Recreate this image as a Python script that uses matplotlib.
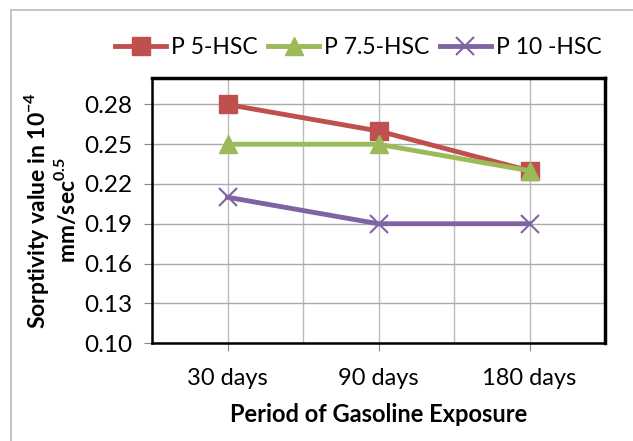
import matplotlib
matplotlib.use("Agg")
import matplotlib.pyplot as plt
from matplotlib.patches import Rectangle
import numpy as np

categories = ["30 days", "90 days", "180 days"]
p5 = [0.28, 0.26, 0.23]
p75 = [0.25, 0.25, 0.23]
p10 = [0.21, 0.19, 0.19]
series_names = ["P 5-HSC", "P 7.5-HSC", "P 10 -HSC"]
yticks = [0.10, 0.13, 0.16, 0.19, 0.22, 0.25, 0.28]

plt.rcParams['font.family'] = ['Lato', 'DejaVu Sans']
plt.rcParams['mathtext.fontset'] = 'custom'
plt.rcParams['mathtext.rm'] = 'Lato'
plt.rcParams['mathtext.bf'] = 'Lato:bold'

W, H = 633, 441
fig = plt.figure(figsize=(W/100, H/100), dpi=100)
ax = fig.add_axes([152/W, 1-343/H, (605-152)/W, (343-78)/H])

x = np.arange(len(categories))
ax.plot(x, p5, color='#C0504D', lw=3.5, marker='s', ms=13, label=series_names[0], zorder=3)
ax.plot(x, p75, color='#9BBB59', lw=3.5, marker='^', ms=13, label=series_names[1], zorder=3)
ax.plot(x, p10, color='#8064A2', lw=3.5, marker='x', ms=13, mew=1.5, label=series_names[2], zorder=3)

ax.set_xlim(-0.5, 2.5)
ax.set_ylim(0.10, 0.30)
ax.set_yticks(yticks)
ax.set_yticklabels([f"{v:.2f}" for v in yticks], fontsize=17.5)
ax.set_xticks(x)
ax.set_xticklabels(categories, fontsize=17)
ax.set_xticks([-0.5, 0.5, 1.5, 2.5], minor=True)
ax.tick_params(axis='x', which='major', length=6, color='#888888', pad=12)
ax.tick_params(axis='x', which='minor', length=0)
ax.tick_params(axis='y', length=6, color='#888888', pad=8)
ax.grid(True, which='both', axis='x', color='#BBBBBB', lw=1)
ax.grid(True, which='major', axis='y', color='#AAAAAA', lw=1)
ax.set_axisbelow(True)
for s in ['top', 'right']:
    ax.spines[s].set_linewidth(2.5)
for s in ['left', 'bottom']:
    ax.spines[s].set_linewidth(1.8)
for s in ax.spines.values():
    s.set_color('black')

ax.set_xlabel("Period of Gasoline Exposure", fontsize=17, fontweight='bold', labelpad=10)
ax.set_ylabel("Sorptivity value in 10$^{\\mathbf{-4}}$\nmm/sec$^{\\mathbf{0.5}}$", fontsize=16.5,
              fontweight='bold', labelpad=4, linespacing=1.1)

leg = fig.legend(loc='center', bbox_to_anchor=(358/W, 1-48/H), ncol=3, frameon=False,
                 fontsize=16.5, handlelength=2.25, handletextpad=0.2, columnspacing=0.45,
                 markerscale=1.0)

fig.patches.append(Rectangle((11/W, -0.1), 1.2, 1 - 10/H + 0.1, transform=fig.transFigure,
                             fill=False, edgecolor='#BBBBBB', lw=1.2))

fig.savefig("out.png", dpi=100)
